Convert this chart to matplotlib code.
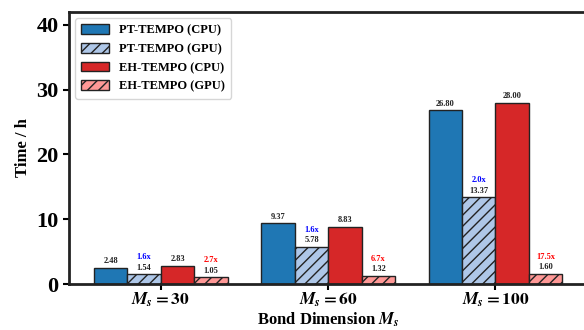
import numpy as np
import matplotlib.pyplot as plt

plt.rcParams['font.family'] = ['Liberation Serif', 'DejaVu Serif']
plt.rcParams['font.weight'] = 'bold'
plt.rcParams['mathtext.fontset'] = 'stix'
plt.rcParams['hatch.linewidth'] = 1.0

# данні
groups = [r'$M_s = 30$', r'$M_s = 60$', r'$M_s = 100$']
pt_cpu = [2.48, 9.37, 26.80]
pt_gpu = [1.54, 5.78, 13.37]
eh_cpu = [2.83, 8.83, 28.00]
eh_gpu = [1.05, 1.32, 1.60]
pt_speed = ['1.6x', '1.6x', '2.0x']
eh_speed = ['2.7x', '6.7x', '17.5x']

series = [
    ('PT-TEMPO (CPU)', pt_cpu, '#1f77b4', None),
    ('PT-TEMPO (GPU)', pt_gpu, '#aec7e8', '///'),
    ('EH-TEMPO (CPU)', eh_cpu, '#d62728', None),
    ('EH-TEMPO (GPU)', eh_gpu, '#ff9896', '///'),
]

x = np.arange(len(groups))
w = 0.2

fig = plt.figure(figsize=(5.84, 3.30), dpi=100)
ax = fig.add_axes([0.118, 0.139, 0.888, 0.825])

for i, (name, vals, col, hatch) in enumerate(series):
    pos = x + (i - 1.5) * w
    ax.bar(pos, vals, w, color=col, edgecolor='#222222', linewidth=1.0,
           hatch=hatch, label=name)
    for p, v in zip(pos, vals):
        ax.text(p, v + 0.4, f'{v:.2f}', ha='center', va='bottom',
                fontsize=6, fontweight='bold', color='#222222')

# прискорення
for p, v, s in zip(x - 0.5 * w, pt_gpu, pt_speed):
    ax.text(p, v + 2.0, s, ha='center', va='bottom', fontsize=6,
            fontweight='bold', color='blue')
for p, v, s in zip(x + 1.5 * w, eh_gpu, eh_speed):
    ax.text(p, v + 2.0, s, ha='center', va='bottom', fontsize=6,
            fontweight='bold', color='red')

ax.set_xlim(-0.55, 2.55)
ax.set_ylim(0, 42)
ax.set_xticks(x)
ax.set_xticklabels(groups, fontsize=12.5)
ax.set_yticks([0, 10, 20, 30, 40])
ax.tick_params(axis='y', labelsize=16, width=1.5, length=4)
ax.tick_params(axis='x', width=1.5, length=4, pad=1)
for lab in ax.get_yticklabels():
    lab.set_fontweight('bold')
for sp in ax.spines.values():
    sp.set_linewidth(2)
    sp.set_color('#222222')

ax.set_ylabel('Time / h', fontsize=12, fontweight='bold')
ax.set_xlabel(r'Bond Dimension $\mathbf{\mathit{M_s}}$', fontsize=12,
              fontweight='bold', labelpad=1)

leg = ax.legend(loc='upper left', prop={'weight': 'bold', 'size': 9},
                handlelength=2.2, handleheight=0.85, borderpad=0.5,
                labelspacing=0.5)
leg.get_frame().set_edgecolor('#cccccc')

fig.savefig('out.png', dpi=100)
